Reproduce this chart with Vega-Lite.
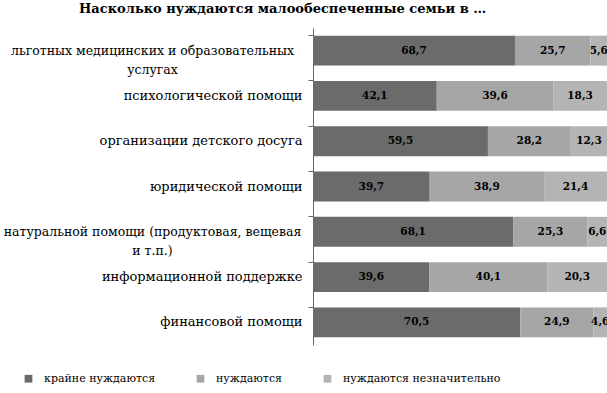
{
  "$schema": "https://vega.github.io/schema/vega-lite/v6.json",
  "width": 294,
  "height": 317,
  "padding": {"left": 0, "top": 3, "right": 0, "bottom": 0},
  "autosize": {"type": "pad"},
  "config": {
    "view": {"stroke": null},
    "locale": {"number": {"decimal": ",", "thousands": " ", "grouping": [3], "currency": ["", ""]}},
    "font": "DejaVu Serif"
  },
  "title": {
    "text": "Насколько нуждаются малообеспеченные семьи в …",
    "font": "DejaVu Serif",
    "fontSize": 13,
    "fontWeight": "bold",
    "anchor": "middle",
    "frame": "bounds",
    "dx": -22,
    "offset": 12,
    "color": "black"
  },
  "data": {
    "values": [
      {"cat": "льготных медицинских и образовательных|услугах", "order": 1, "level": "крайне нуждаются", "k": 1, "v": 68.7},
      {"cat": "льготных медицинских и образовательных|услугах", "order": 1, "level": "нуждаются", "k": 2, "v": 25.7},
      {"cat": "льготных медицинских и образовательных|услугах", "order": 1, "level": "нуждаются незначительно", "k": 3, "v": 5.6},
      {"cat": "психологической помощи", "order": 2, "level": "крайне нуждаются", "k": 1, "v": 42.1},
      {"cat": "психологической помощи", "order": 2, "level": "нуждаются", "k": 2, "v": 39.6},
      {"cat": "психологической помощи", "order": 2, "level": "нуждаются незначительно", "k": 3, "v": 18.3},
      {"cat": "организации детского досуга", "order": 3, "level": "крайне нуждаются", "k": 1, "v": 59.5},
      {"cat": "организации детского досуга", "order": 3, "level": "нуждаются", "k": 2, "v": 28.2},
      {"cat": "организации детского досуга", "order": 3, "level": "нуждаются незначительно", "k": 3, "v": 12.3},
      {"cat": "юридической помощи", "order": 4, "level": "крайне нуждаются", "k": 1, "v": 39.7},
      {"cat": "юридической помощи", "order": 4, "level": "нуждаются", "k": 2, "v": 38.9},
      {"cat": "юридической помощи", "order": 4, "level": "нуждаются незначительно", "k": 3, "v": 21.4},
      {"cat": "натуральной помощи (продуктовая, вещевая|и т.п.)", "order": 5, "level": "крайне нуждаются", "k": 1, "v": 68.1},
      {"cat": "натуральной помощи (продуктовая, вещевая|и т.п.)", "order": 5, "level": "нуждаются", "k": 2, "v": 25.3},
      {"cat": "натуральной помощи (продуктовая, вещевая|и т.п.)", "order": 5, "level": "нуждаются незначительно", "k": 3, "v": 6.6},
      {"cat": "информационной поддержке", "order": 6, "level": "крайне нуждаются", "k": 1, "v": 39.6},
      {"cat": "информационной поддержке", "order": 6, "level": "нуждаются", "k": 2, "v": 40.1},
      {"cat": "информационной поддержке", "order": 6, "level": "нуждаются незначительно", "k": 3, "v": 20.3},
      {"cat": "финансовой помощи", "order": 7, "level": "крайне нуждаются", "k": 1, "v": 70.5},
      {"cat": "финансовой помощи", "order": 7, "level": "нуждаются", "k": 2, "v": 24.9},
      {"cat": "финансовой помощи", "order": 7, "level": "нуждаются незначительно", "k": 3, "v": 4.6}
    ]
  },
  "encoding": {
    "y": {
      "field": "cat",
      "type": "nominal",
      "sort": {"field": "order", "op": "min"},
      "scale": {"paddingInner": 0.34, "paddingOuter": 0.17},
      "axis": {
        "title": null,
        "labelExpr": "split(datum.label, '|')",
        "labelFont": "DejaVu Serif",
        "labelFontSize": {"condition": {"test": "indexof(datum.label, '|') >= 0", "value": 12.5}, "value": 13},
        "labelColor": "black",
        "labelLimit": 400,
        "labelLineHeight": 19,
        "labelAlign": {"condition": {"test": "indexof(datum.label, '|') >= 0", "value": "center"}, "value": "right"},
        "labelPadding": {"condition": {"test": "indexof(datum.label, '|') >= 0", "value": 156}, "value": 6},
        "bandPosition": 0,
        "tickSize": 5,
        "tickColor": "#666666",
        "domainColor": "#666666",
        "minExtent": 313,
        "maxExtent": 313
      }
    },
    "x": {
      "field": "v",
      "type": "quantitative",
      "stack": "zero",
      "scale": {"domain": [0, 100], "nice": false},
      "axis": null
    },
    "order": {"field": "k"}
  },
  "layer": [
    {
      "mark": {"type": "bar"},
      "encoding": {
        "color": {
          "field": "level",
          "type": "nominal",
          "sort": ["крайне нуждаются", "нуждаются", "нуждаются незначительно"],
          "scale": {"domain": ["крайне нуждаются", "нуждаются", "нуждаются незначительно"], "range": ["#6b6b6b", "#a6a6a6", "#b4b4b4"]},
          "legend": {
            "title": null,
            "orient": "none",
            "direction": "horizontal",
            "legendX": -290,
            "legendY": 345,
            "symbolType": "square",
            "symbolSize": 60,
            "symbolStrokeWidth": 0,
            "labelFont": "DejaVu Serif",
            "labelFontSize": 11,
            "labelLimit": 300,
            "labelColor": "black",
            "columnPadding": 39,
            "labelOffset": 10
          }
        }
      }
    },
    {
      "mark": {"type": "text", "fontWeight": "bold", "fontSize": 10.5, "font": "DejaVu Serif", "color": "black"},
      "encoding": {
        "x": {"field": "v", "type": "quantitative", "stack": "zero", "bandPosition": 0.5},
        "text": {"field": "v", "type": "quantitative", "format": ".1f"}
      }
    }
  ]
}
